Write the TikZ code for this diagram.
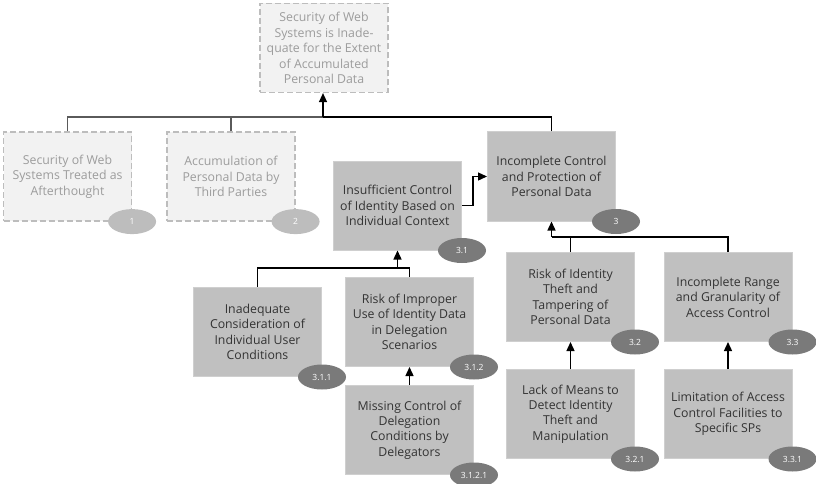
\documentclass[tikz,border=0pt]{standalone}
\usepackage{fontspec}
\setmainfont{Open Sans}
\usetikzlibrary{arrows.meta,shapes.geometric}
\definecolor{boxfill}{HTML}{C0C0C0}
\definecolor{boxedge}{HTML}{CFCFCF}
\definecolor{ghostfill}{HTML}{F2F2F2}
\definecolor{ghostedge}{HTML}{BDBDBD}
\definecolor{ghosttext}{HTML}{9C9C9C}
\definecolor{darktext}{HTML}{333333}
\definecolor{tagdark}{HTML}{7A7A7A}
\definecolor{taglight}{HTML}{BDBDBD}
\definecolor{ghostline}{HTML}{5A5A5A}
\tikzset{
  box/.style={rectangle, draw=boxedge, fill=boxfill, line width=1pt,
    minimum width=128pt, minimum height=89pt, inner sep=0pt,
    align=center, text=darktext, font=\fontsize{12.3}{15.4}\selectfont},
  ghost/.style={box, draw=ghostedge, fill=ghostfill, text=ghosttext,
    dashed, dash pattern=on 6pt off 3pt, line width=1.2pt},
  tag/.style={ellipse, fill=tagdark, minimum width=48pt, minimum height=25pt,
    inner sep=0pt, text=white, font=\fontsize{8.5}{9}\selectfont},
  ghosttag/.style={tag, fill=taglight},
  link/.style={line width=1.3pt, black},
  ghostlink/.style={line width=1.3pt, ghostline},
  arr/.style={link, -{Triangle[length=9pt,width=8pt]}}
}
\begin{document}
\begin{tikzpicture}[x=1pt,y=-1pt]
\useasboundingbox (0,0) rectangle (816,484);

% problem statement and first-level causes
\node[ghost] (top) at (324,48) {Security of Web\\Systems is Inade-\\quate for the Extent\\of Accumulated\\Personal Data};
\node[ghost] (n1) at (67.5,176.5) {Security of Web\\Systems Treated as\\Afterthought};
\node[ghost] (n2) at (231,176.5) {Accumulation of\\Personal Data by\\Third Parties};
\node[box] (n3) at (551.5,176.5) {Incomplete Control\\and Protection of\\Personal Data};

% second level
\node[box] (n31) at (397.5,205.5) {Insufficient Control\\of Identity Based on\\Individual Context};
\node[box] (n32) at (570.5,297) {Risk of Identity\\Theft and\\Tampering of\\Personal Data};
\node[box] (n33) at (728,297) {Incomplete Range\\and Granularity of\\Access Control};

% third level
\node[box] (n311) at (257.5,332) {Inadequate\\Consideration of\\Individual User\\Conditions};
\node[box] (n312) at (409.5,322) {Risk of Improper\\Use of Identity Data\\in Delegation\\Scenarios};
\node[box] (n3121) at (409.5,430) {Missing Control of\\Delegation\\Conditions by\\Delegators};
\node[box] (n321) at (570.5,414) {Lack of Means to\\Detect Identity\\Theft and\\Manipulation};
\node[box] (n331) at (728,414) {Limitation of Access\\Control Facilities to\\Specific SPs};

% numbering tags on the lower right corners
\node[ghosttag] (t1) at (n1.south east) {1};
\node[ghosttag] (t2) at (n2.south east) {2};
\node[tag] (t3) at (n3.south east) {3};
\node[tag] (t31) at (n31.south east) {3.1};
\node[tag] (t32) at (n32.south east) {3.2};
\node[tag] (t33) at (n33.south east) {3.3};
\node[tag] (t311) at (n311.south east) {3.1.1};
\node[tag] (t312) at (n312.south east) {3.1.2};
\node[tag] (t3121) at (n3121.south east) {3.1.2.1};
\node[tag] (t321) at (n321.south east) {3.2.1};
\node[tag] (t331) at (n331.south east) {3.3.1};

% junction points
\coordinate (j0) at (323,117);
\coordinate (j3) at (551.5,237);
\coordinate (j31) at (397.5,268);

% connectors
\draw[ghostlink] (n1.north) |- (j0);
\draw[ghostlink] (n2.north) |- (j0);
\draw[link] (n3.north) |- (j0);
\draw[arr] (j0) -- (j0 |- top.south);

\draw[arr] (n31.east) -- ++(11,0) |- (n3.west);

\draw[link] (n32.north) |- (j3);
\draw[link] (n33.north) |- (j3);
\draw[arr] (j3) -- (n3.south);

\draw[link] (n311.north) |- (j31);
\draw[link] (n312.north) |- (j31);
\draw[arr] (j31) -- (n31.south);

\draw[arr] (n3121.north) -- (n312.south);
\draw[arr] (n321.north) -- (n32.south);
\draw[arr] (n331.north) -- (n33.south);
\end{tikzpicture}
\end{document}
